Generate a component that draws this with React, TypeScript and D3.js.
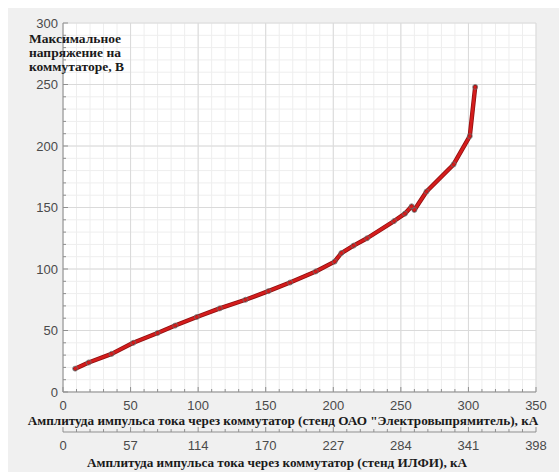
import React from "react";
import * as d3 from "d3";

// Measured curve: commutator current (kA, OAO "Электровыпрямитель" test bench) vs max voltage (V)
const currentKA: number[] = [9, 19, 36, 52, 70, 83, 99, 116, 135, 152, 168, 187, 201, 206, 215, 225, 245, 253, 258, 260, 269, 289, 301, 305];
const voltageV: number[] = [19, 24, 31, 40, 48, 54, 61, 68, 75, 82, 89, 98, 106, 113, 119, 125, 139, 145, 151, 148, 163, 185, 208, 248];

const xTicks: number[] = [0, 50, 100, 150, 200, 250, 300, 350];
const yTicks: number[] = [0, 50, 100, 150, 200, 250, 300];
// Secondary scale (ИЛФИ bench) labels at the same positions as the primary ticks
const xTicks2Labels: string[] = ["0", "57", "114", "170", "227", "284", "341", "398"];

const xTitle1 = 'Амплитуда импульса тока через коммутатор (стенд ОАО "Электровыпрямитель), кА';
const xTitle2 = "Амплитуда импульса тока через коммутатор (стенд ИЛФИ), кА";
const yTitleLines: string[] = ["Максимальное", "напряжение на", "коммутаторе, В"];

const W = 559;
const H = 472;
const left = 63;
const right = 536;
const top = 23;
const bottom = 392;
const axis2Y = 432;

export default function App() {
  const x = d3.scaleLinear().domain([0, 350]).range([left, right]);
  const y = d3.scaleLinear().domain([0, 300]).range([bottom, top]);

  const minorX = d3.range(0, 351, 10);
  const minorY = d3.range(0, 301, 10);

  const pts = currentKA.map((c, i) => [c, voltageV[i]] as [number, number]);
  const line = d3
    .line<[number, number]>()
    .x((d) => x(d[0]))
    .y((d) => y(d[1]));
  const path = line(pts) || "";

  const axisColor = "#8f8f8f";
  const tickFont = "'Liberation Sans', Arial, sans-serif";
  const titleFont = "'Liberation Serif', 'Times New Roman', serif";

  return (
    <svg
      width={W}
      height={H}
      style={{ position: "absolute", left: 0, top: 0 }}
      xmlns="http://www.w3.org/2000/svg"
    >
      <rect x={0} y={0} width={W} height={H} fill="#ffffff" />
      <rect x={8} y={8} width={W - 8} height={H - 8} fill="#f0f0f0" />
      <rect x={left} y={top} width={right - left} height={bottom - top} fill="#ffffff" />

      {/* minor grid */}
      {minorX.map((v) => (
        <line key={"mgx" + v} x1={x(v)} x2={x(v)} y1={top} y2={bottom} stroke="#eeeeee" strokeWidth={1} />
      ))}
      {minorY.map((v) => (
        <line key={"mgy" + v} x1={left} x2={right} y1={y(v)} y2={y(v)} stroke="#eeeeee" strokeWidth={1} />
      ))}
      {/* major grid */}
      {xTicks.map((v) => (
        <line key={"gx" + v} x1={x(v)} x2={x(v)} y1={top} y2={bottom} stroke="#dadada" strokeWidth={1} />
      ))}
      {yTicks.map((v) => (
        <line key={"gy" + v} x1={left} x2={right} y1={y(v)} y2={y(v)} stroke="#dadada" strokeWidth={1} />
      ))}

      {/* axes lines */}
      <line x1={left} x2={left} y1={top} y2={bottom} stroke={axisColor} strokeWidth={1} />
      <line x1={left} x2={right} y1={bottom} y2={bottom} stroke={axisColor} strokeWidth={1} />

      {/* ticks (inward) */}
      {minorX.map((v) => (
        <line key={"tx" + v} x1={x(v)} x2={x(v)} y1={bottom} y2={bottom - (v % 50 === 0 ? 5 : 3)} stroke={axisColor} />
      ))}
      {minorY.map((v) => (
        <line key={"ty" + v} x1={left} x2={left + (v % 50 === 0 ? 5 : 3)} y1={y(v)} y2={y(v)} stroke={axisColor} />
      ))}

      {/* tick labels */}
      {xTicks.map((v) => (
        <text key={"lx" + v} x={x(v)} y={bottom + 18} textAnchor="middle" fontFamily={tickFont} fontSize={13} fill="#4a4a4a">
          {v}
        </text>
      ))}
      {yTicks.map((v) => (
        <text key={"ly" + v} x={left - 5} y={y(v) + 4.5} textAnchor="end" fontFamily={tickFont} fontSize={13} fill="#4a4a4a">
          {v}
        </text>
      ))}

      {/* secondary x axis */}
      <line x1={left} x2={right} y1={axis2Y} y2={axis2Y} stroke={axisColor} strokeWidth={1} />
      {minorX.map((v) => (
        <line key={"t2" + v} x1={x(v)} x2={x(v)} y1={axis2Y} y2={axis2Y - (v % 50 === 0 ? 5 : 3)} stroke={axisColor} />
      ))}
      {xTicks.map((v, i) => (
        <text key={"l2" + v} x={x(v)} y={axis2Y + 18} textAnchor="middle" fontFamily={tickFont} fontSize={13} fill="#4a4a4a">
          {xTicks2Labels[i]}
        </text>
      ))}

      {/* titles */}
      <text x={283} y={425} textAnchor="middle" fontFamily={titleFont} fontWeight="bold" fontSize={13.2} fill="#1a1a1a">
        {xTitle1}
      </text>
      <text x={277} y={467} textAnchor="middle" fontFamily={titleFont} fontWeight="bold" fontSize={13.2} fill="#1a1a1a">
        {xTitle2}
      </text>
      {yTitleLines.map((t, i) => (
        <text key={"yt" + i} x={29} y={43 + i * 14} fontFamily={titleFont} fontWeight="bold" fontSize={13.5} fill="#1a1a1a">
          {t}
        </text>
      ))}

      {/* data line */}
      <path d={path} fill="none" stroke="#8e1010" strokeWidth={4.4} strokeLinejoin="round" strokeLinecap="round" />
      <path d={path} fill="none" stroke="#d41c1c" strokeWidth={2.8} strokeLinejoin="round" strokeLinecap="round" />
      {pts.map((d, i) => (
        <circle key={"m" + i} cx={x(d[0])} cy={y(d[1])} r={2.5} fill="none" stroke="#6a6a6a" strokeWidth={0.8} />
      ))}
    </svg>
  );
}
